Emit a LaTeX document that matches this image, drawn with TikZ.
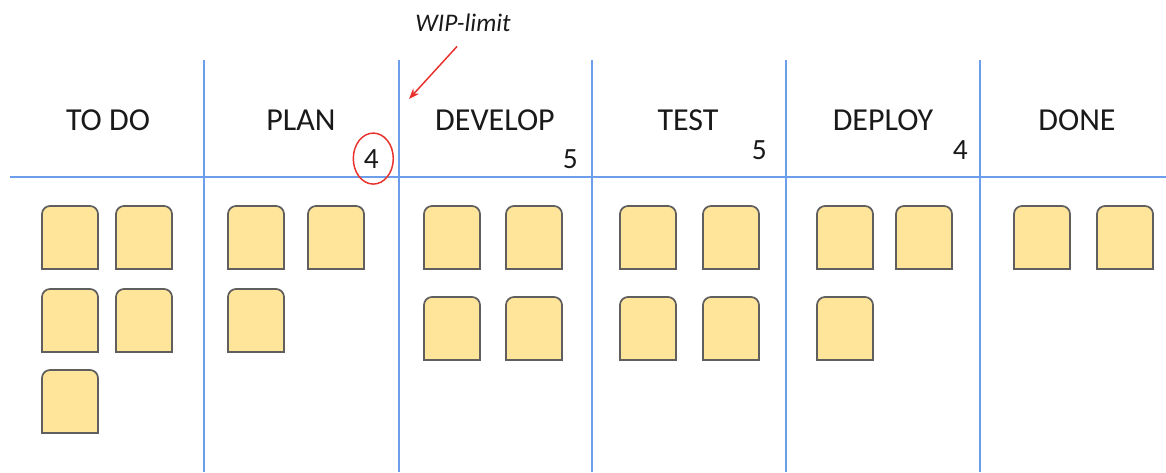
\documentclass[tikz,border=0pt]{standalone}
\usepackage{fontspec}
\setmainfont{Carlito}
\usetikzlibrary{arrows.meta}
\definecolor{laneblue}{HTML}{6D9EEB}
\definecolor{cardfill}{HTML}{FFE599}
\definecolor{cardline}{HTML}{5F5F5F}
\definecolor{wipred}{HTML}{E8312A}
\tikzset{
  lane/.style={laneblue,line width=1.6pt},
  card/.style={fill=cardfill,draw=cardline,line width=1.3pt},
  head/.style={anchor=base,inner sep=0pt,text=black!90,font=\fontsize{24}{28}\selectfont},
  limit/.style={anchor=base east,inner sep=0pt,text=black!90,font=\fontsize{22}{25}\selectfont},
}
\newcommand{\kcard}[2]{\draw[card] (#1,#2) -- ++(0,55) arc (180:90:8) -- ++(40,0) arc (90:0:8) -- ++(0,-55) -- cycle;}

\begin{document}
\begin{tikzpicture}[x=0.75pt,y=0.75pt]
	\useasboundingbox (0,0) rectangle (1166,472);
	\draw[lane] (10,295) -- (1166,295);
	\foreach \x in {204,399,592,786,980}
		\draw[lane] (\x,412) -- (\x,0);
	\node[head] (todo) at (108,341) {TO DO};
	\node[head] (plan) at (301,341) {PLAN};
	\node[head] (develop) at (495,341) {DEVELOP};
	\node[head] (test) at (688,341) {TEST};
	\node[head] (deploy) at (883,341) {DEPLOY};
	\node[head] (done) at (1077,341) {DONE};
	\node[limit] (plimit) at (379,304) {4};
	\node[limit] (dlimit) at (578,304) {5};
	\node[limit] (tlimit) at (767,312) {5};
	\node[limit] (ylimit) at (968,312) {4};
	\draw[wipred,line width=1.1pt] ([xshift=1.5pt]plimit.center) ellipse (20 and 25.5);
	\node[anchor=base,inner sep=0pt,text=black!90,font=\fontsize{19}{22}\selectfont\itshape] (wip) at (463,440) {WIP-limit};
	\coordinate (tip) at (409,373);
	\draw[wipred,line width=1.1pt,-{Stealth[length=8pt,width=6pt]}] ([xshift=-4.5pt,yshift=-10.5pt]wip.south) -- (tip);
	\foreach \x/\y in {42/203,116/203,42/120,116/120,42/39,
		228/203,308/203,228/120,
		424/203,506/203,424/112,506/112,
		620/203,703/203,620/112,703/112,
		817/203,896/203,817/112,
		1014/203,1097/203}
		{\kcard{\x}{\y}}
\end{tikzpicture}
\end{document}
